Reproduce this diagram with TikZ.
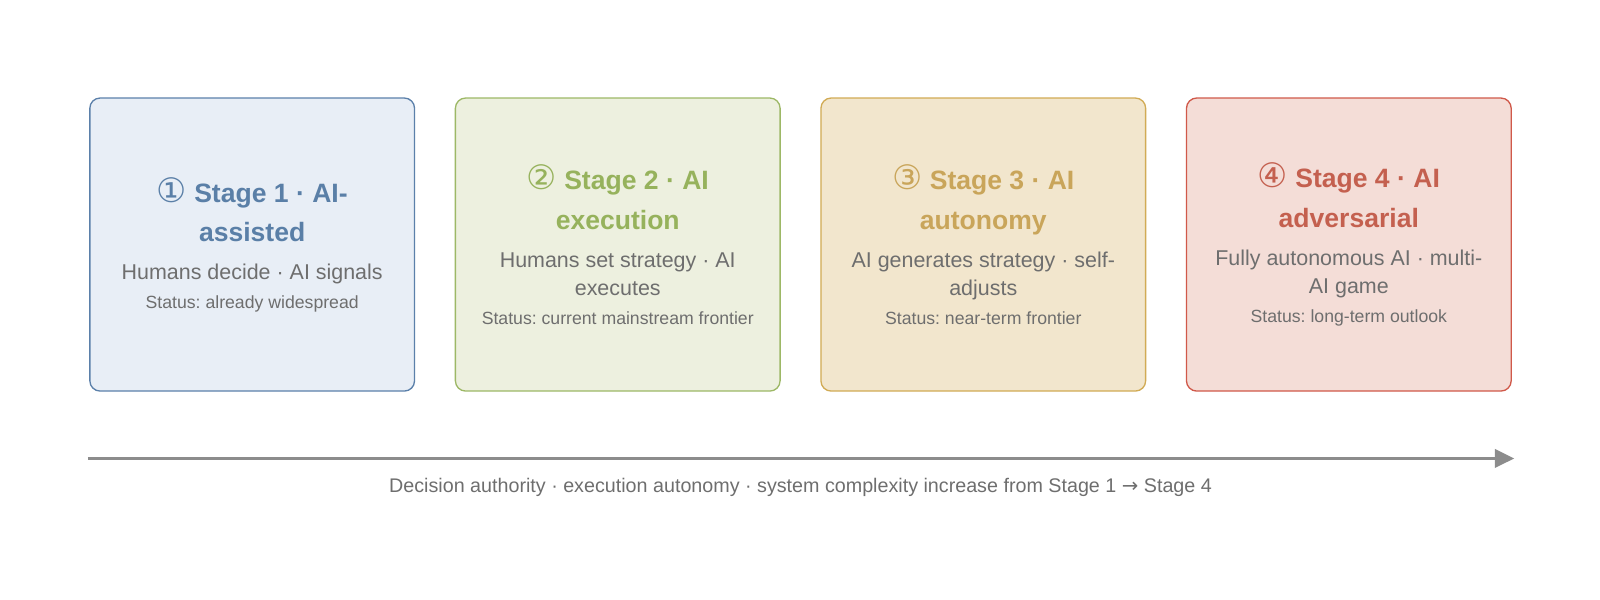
\documentclass[tikz,border=0pt]{standalone}
\usepackage{fontspec}
\setmainfont{Liberation Sans}
\newfontfamily\circfont{DejaVu Sans}
\usepackage{tikz}
\usetikzlibrary{arrows.meta}

\definecolor{blueline}{HTML}{5B80AA}
\definecolor{bluefill}{HTML}{E8EEF6}
\definecolor{bluetext}{HTML}{5A7FA7}
\definecolor{greenline}{HTML}{9DB866}
\definecolor{greenfill}{HTML}{EDF0DF}
\definecolor{greentext}{HTML}{96B25C}
\definecolor{goldline}{HTML}{D1AB55}
\definecolor{goldfill}{HTML}{F2E6CD}
\definecolor{goldtext}{HTML}{C9A55A}
\definecolor{redline}{HTML}{D0594A}
\definecolor{redfill}{HTML}{F4DDD7}
\definecolor{redtext}{HTML}{C4604F}
\definecolor{greytext}{HTML}{6E6E6E}
\definecolor{axisgrey}{HTML}{8C8C8C}

\newcommand{\natspace}{\spaceskip=\fontdimen2\font\xspaceskip=\fontdimen2\font\relax}
\newcommand{\stagetitle}[2]{{\fontsize{26}{39}\selectfont\bfseries\natspace\color{#1}#2\par}}
\newcommand{\stagebody}[1]{\vspace{9pt}{\fontsize{21}{28}\selectfont\natspace #1\par}}
\newcommand{\stagestatus}[1]{\vspace{8pt}{\fontsize{17.3}{20}\selectfont\natspace #1\par}}
\newcommand{\circnum}[1]{{\circfont\mdseries\fontsize{33}{33}\selectfont #1}}

\begin{document}
\begin{tikzpicture}[x=1pt,y=-1pt,
    stage_box/.style={rectangle,rounded corners=10pt,draw,line width=1.3pt,
        minimum width=318pt,minimum height=287pt,text width=300pt,inner xsep=9pt,
        align=center,text=greytext},
    axis_line/.style={draw=axisgrey,line width=2.6pt,-{Triangle[length=19pt,width=18pt]}}]

    \useasboundingbox (0,0) rectangle (1567,587);

    \node[stage_box,draw=blueline,fill=bluefill] (1) at (247,239.5) {%
        \stagetitle{bluetext}{\circnum{①} Stage 1 · AI-\\assisted}%
        \stagebody{Humans decide · AI signals}%
        \stagestatus{Status: already widespread}};
    \node[stage_box,draw=greenline,fill=greenfill] (2) at (605,239.5) {%
        \stagetitle{greentext}{\circnum{②} Stage 2 · AI\\execution}%
        \stagebody{Humans set strategy · AI\\executes}%
        \stagestatus{Status: current mainstream frontier}};
    \node[stage_box,draw=goldline,fill=goldfill] (3) at (963,239.5) {%
        \stagetitle{goldtext}{\circnum{③} Stage 3 · AI\\autonomy}%
        \stagebody{AI generates strategy · self-\\adjusts}%
        \stagestatus{Status: near-term frontier}};
    \node[stage_box,draw=redline,fill=redfill] (4) at (1321,239.5) {%
        \stagetitle{redtext}{\circnum{④} Stage 4 · AI\\adversarial}%
        \stagebody{Fully autonomous AI · multi-\\AI game}%
        \stagestatus{Status: long-term outlook}};

    \coordinate (5) at (86,449);
    \coordinate (6) at (1483,449);
    \node[text=greytext,font=\fontsize{19.3}{22}\selectfont] (7) at (784,477)
        {Decision authority · execution autonomy · system complexity increase from Stage 1 {\circfont →} Stage 4};

    \draw[axis_line] (5) -- (6);

\end{tikzpicture}
\end{document}
